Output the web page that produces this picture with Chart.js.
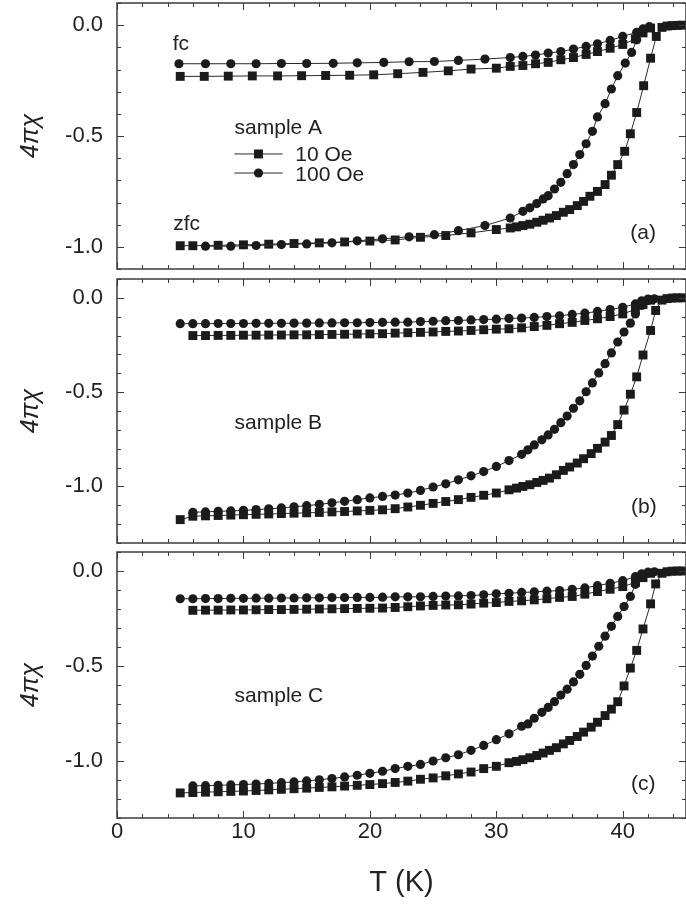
<!DOCTYPE html>
<html><head><meta charset="utf-8">
<script src="https://cdn.jsdelivr.net/npm/chart.js@4.4.1/dist/chart.umd.min.js"></script>
<style>
html,body{margin:0;padding:0;background:#fff;}
#wrap{position:relative;width:686px;height:911px;overflow:hidden;background:#fff;}
.panel{position:absolute;left:0;width:686px;}
canvas{display:block;}
</style></head><body>
<div id="wrap">
  <div class="panel" style="top:0px;height:273px"><canvas id="ca" width="686" height="273"></canvas></div>
  <div class="panel" style="top:276px;height:270px"><canvas id="cb" width="686" height="270"></canvas></div>
  <div class="panel" style="top:549px;height:362px"><canvas id="cc" width="686" height="362"></canvas></div>
</div>
<script>
// ---------- axis ticks ----------
const xTicks = [0, 10, 20, 30, 40];
const yTicks = [-1.0, -0.5, 0.0];

// ---------- sample A ----------
const aFc10T  = [5, 6.9, 8.8, 10.7, 12.7, 14.6, 16.5, 18.4, 20.3, 22.2, 24.2, 26.2, 28.0, 30.0, 31.1, 32.1, 33.1, 34.1, 35.1, 36.1, 37.1, 38.0, 39.0, 40.0, 41.0, 41.6, 42.2];
const aFc10   = [-0.231,-0.231,-0.230,-0.229,-0.229,-0.228,-0.227,-0.226,-0.224,-0.219,-0.213,-0.206,-0.198,-0.194,-0.186,-0.182,-0.174,-0.168,-0.156,-0.146,-0.132,-0.119,-0.104,-0.087,-0.062,-0.035,-0.013];
const aFc100T = [4.9, 7.0, 9.0, 11.0, 13.0, 15.0, 17.1, 19.0, 21.1, 23.1, 25.1, 27.0, 29.1, 31.1, 32.1, 33.1, 34.1, 35.1, 36.1, 37.1, 38.0, 39.0, 40.0, 41.1, 41.6, 42.1];
const aFc100  = [-0.174,-0.174,-0.174,-0.174,-0.173,-0.173,-0.172,-0.170,-0.168,-0.165,-0.164,-0.159,-0.153,-0.146,-0.141,-0.135,-0.126,-0.119,-0.108,-0.096,-0.084,-0.069,-0.051,-0.032,-0.017,-0.007];
const aZfc10T = [5, 6, 8, 10, 12, 14, 16, 18, 20, 22, 24, 26, 28, 30, 31.1, 31.6, 32.1, 32.65, 33.2, 33.7, 34.2, 34.75, 35.3, 35.8, 36.4, 36.9, 37.4, 38.0, 38.6, 39.1, 39.6, 40.15, 40.6, 41.1, 41.65, 42.2, 42.65, 43.1, 43.5, 43.9, 44.3, 44.7];
const aZfc10  = [-0.995,-0.995,-0.993,-0.991,-0.988,-0.985,-0.982,-0.978,-0.974,-0.969,-0.957,-0.949,-0.937,-0.922,-0.915,-0.910,-0.904,-0.898,-0.889,-0.880,-0.870,-0.859,-0.844,-0.832,-0.814,-0.795,-0.772,-0.750,-0.719,-0.677,-0.629,-0.569,-0.490,-0.394,-0.273,-0.149,-0.051,-0.010,-0.004,-0.002,-0.001,0.0];
const aZfc100T = [7, 9, 11, 13, 15, 17, 19, 21, 23.1, 25.1, 27, 29.1, 31.1, 32.1, 32.65, 33.2, 33.7, 34.1, 34.6, 35.1, 35.6, 36.1, 36.6, 37.1, 37.6, 38.0, 38.6, 39.1, 39.6, 40.2, 40.7, 41.1, 41.6, 42.1];
const aZfc100  = [-0.997,-0.997,-0.994,-0.990,-0.987,-0.982,-0.973,-0.964,-0.955,-0.945,-0.927,-0.904,-0.870,-0.840,-0.824,-0.805,-0.784,-0.769,-0.739,-0.709,-0.670,-0.629,-0.584,-0.535,-0.479,-0.414,-0.354,-0.288,-0.228,-0.171,-0.123,-0.066,-0.028,-0.009];

// ---------- sample B ----------
const bFc100T = [5,6,7,8,9,10,11,12,13,14,15,16,17,18,19,20,21,22,23,24,25,26,27,28,29,30,31,32,33,34,35,36,37,38,39,40,41,41.5,42];
const bFc100  = [-0.137,-0.137,-0.137,-0.136,-0.136,-0.136,-0.135,-0.135,-0.135,-0.134,-0.134,-0.133,-0.133,-0.132,-0.132,-0.131,
                 -0.130,-0.129,-0.129,-0.126,-0.124,-0.121,-0.120,-0.117,-0.115,-0.113,-0.109,-0.107,-0.104,-0.099,-0.095,-0.088,-0.081,-0.072,-0.062,-0.050,-0.032,-0.016,-0.006];
const bFc10T  = [6,7,8,9,10,11,12,13,14,15,16,17,18,19,20,21,22,23,24,25,26,27,28,29,30,31,32,33,34,35,36,37,38,39,40,41,41.6,42.2];
const bFc10   = [-0.200,-0.200,-0.199,-0.199,-0.198,-0.198,-0.197,-0.197,-0.196,-0.196,-0.195,-0.194,-0.193,-0.192,-0.191,
                 -0.190,-0.187,-0.185,-0.183,-0.181,-0.178,-0.176,-0.173,-0.169,-0.166,-0.164,-0.159,-0.152,-0.146,-0.137,-0.130,-0.120,-0.111,-0.099,-0.085,-0.062,-0.035,-0.012];
const bZfc10T = [5,6,7,8,9,10,11,12,13,14,15,16,17,18,19,20,21,22,23,24,25,26,27,28,29,30,31,31.6,32.1,32.65,33.2,33.7,34.2,34.75,35.3,35.8,36.4,36.9,37.5,38.0,38.6,39.1,39.6,40.1,40.6,41.1,41.6,42.2,42.6,43.1,43.5,43.9,44.3,44.7];
const bZfc10  = [-1.176,-1.158,-1.156,-1.154,-1.152,-1.150,-1.148,-1.146,-1.144,-1.142,-1.140,-1.138,-1.135,-1.133,-1.130,-1.127,-1.124,
                 -1.118,-1.109,-1.100,-1.090,-1.080,-1.070,-1.058,-1.047,-1.035,-1.018,
                 -1.009,-1.000,-0.991,-0.979,-0.968,-0.956,-0.938,-0.915,-0.897,-0.876,-0.853,-0.826,-0.798,-0.765,-0.730,-0.672,-0.595,-0.511,-0.419,-0.303,-0.173,-0.067,
                 -0.012,-0.004,-0.001,0.0,0.0];
const bZfc100T = [6,7,8,9,10,11,12,13,14,15,16,17,18,19,20,21,22,23,24,25,26,27,28,29,30,31,32,32.5,33.0,33.6,34.1,34.6,35.1,35.6,36.1,36.6,37.1,37.6,38.1,38.6,39.1,39.6,40.1,40.6,41.0,41.5,42.0,42.5];
const bZfc100  = [-1.137,-1.135,-1.132,-1.130,-1.127,-1.123,-1.119,-1.114,-1.108,-1.102,-1.095,-1.087,-1.079,-1.070,-1.061,-1.053,-1.046,-1.035,-1.021,-1.003,-0.986,-0.965,-0.944,-0.921,-0.894,-0.863,
                  -0.830,-0.806,-0.780,-0.753,-0.727,-0.697,-0.662,-0.627,-0.586,-0.546,-0.498,-0.451,-0.398,-0.349,-0.292,-0.234,-0.181,-0.134,-0.085,-0.040,-0.014,-0.005];

// ---------- sample C ----------
const cFc100T = [5,6,7,8,9,10,11,12,13,14,15,16,17,18,19,20,21,22,23,24,25,26,27,28,29,30,31,32,33,34,35,36,37,38,39,40,41,41.5,42];
const cFc100  = [-0.146,-0.146,-0.145,-0.145,-0.144,-0.144,-0.143,-0.143,-0.142,-0.142,-0.141,-0.141,-0.140,-0.140,-0.139,-0.139,
                 -0.138,-0.136,-0.136,-0.136,-0.134,-0.132,-0.131,-0.129,-0.125,-0.120,-0.117,-0.113,-0.110,-0.106,-0.103,-0.096,-0.089,-0.077,-0.065,-0.051,-0.030,-0.015,-0.006];
const cFc10T  = [6,7,8,9,10,11,12,13,14,15,16,17,18,19,20,21,22,23,24,25,26,27,28,29,30,31,32,33,34,35,36,37,38,39,40,41,41.6,42.2];
const cFc10   = [-0.207,-0.206,-0.206,-0.205,-0.205,-0.204,-0.203,-0.203,-0.202,-0.201,-0.200,-0.199,-0.198,-0.197,-0.196,
                 -0.195,-0.192,-0.188,-0.184,-0.181,-0.179,-0.178,-0.174,-0.169,-0.166,-0.160,-0.157,-0.152,-0.146,-0.139,-0.134,-0.122,-0.108,-0.096,-0.082,-0.060,-0.035,-0.012];
const cZfc10T = [5,6,7,8,9,10,11,12,13,14,15,16,17,18,19,20,21,22,23,24,25,26,27,28,29,30,31,31.6,32.1,32.65,33.2,33.7,34.2,34.75,35.3,35.8,36.4,36.9,37.5,38.0,38.6,39.1,39.6,40.1,40.6,41.1,41.6,42.2,42.6,43.1,43.5,43.9,44.3,44.7];
const cZfc10  = [-1.168,-1.166,-1.164,-1.162,-1.160,-1.158,-1.155,-1.152,-1.149,-1.146,-1.143,-1.139,-1.136,-1.132,-1.128,-1.124,-1.119,
                 -1.113,-1.106,-1.096,-1.089,-1.078,-1.068,-1.058,-1.040,-1.028,-1.009,
                 -1.002,-0.993,-0.983,-0.971,-0.958,-0.944,-0.930,-0.910,-0.892,-0.871,-0.848,-0.822,-0.796,-0.761,-0.727,-0.688,-0.605,-0.511,-0.418,-0.305,-0.173,-0.068,
                 -0.012,-0.004,-0.001,0.0,0.0];
const cZfc100T = [6,7,8,9,10,11,12,13,14,15,16,17,18,19,20,21,22,23,24,25,26,27,28,29,30,31,32,32.5,33.0,33.6,34.1,34.6,35.1,35.6,36.1,36.6,37.1,37.6,38.1,38.6,39.1,39.6,40.1,40.6,41.0,41.5,42.0,42.5];
const cZfc100  = [-1.131,-1.130,-1.128,-1.126,-1.124,-1.121,-1.118,-1.114,-1.110,-1.105,-1.099,-1.092,-1.084,-1.075,-1.065,
                  -1.054,-1.040,-1.028,-1.018,-1.000,-0.983,-0.967,-0.944,-0.918,-0.888,-0.857,
                  -0.817,-0.805,-0.775,-0.744,-0.718,-0.688,-0.653,-0.622,-0.584,-0.544,-0.497,-0.448,-0.396,-0.343,-0.291,-0.239,-0.187,-0.134,-0.070,-0.030,-0.010,-0.004];

// ---------- rendering ----------
const FONT = "'Liberation Sans', Arial, Helvetica, sans-serif";
const INK = '#1b1b1b';
const FRAME = '#3c3c3c';
const SQ_R = 6.3, CI_R = 4.6;

function pts(T, V) { return T.map((t, i) => ({ x: t, y: V[i] })); }
function ds(T, V, style) {
  const r = style === 'rect' ? SQ_R : CI_R;
  return {
    data: pts(T, V), showLine: true, tension: 0, fill: false,
    borderColor: '#2a2a2a', borderWidth: 1,
    pointStyle: style, pointRadius: r, pointHoverRadius: r,
    pointBackgroundColor: INK, pointBorderColor: INK, pointBorderWidth: 0
  };
}

const frameTicks = {
  id: 'frameTicks',
  afterDatasetsDraw(chart) {
    const { ctx, chartArea: { left, right, top, bottom }, scales: { x, y } } = chart;
    ctx.save();
    ctx.strokeStyle = FRAME;
    ctx.lineWidth = 1;
    ctx.beginPath();
    for (let k = 0; k <= 22; k++) {
      const v = 2 * k;
      const px = Math.round(x.getPixelForValue(v)) + 0.5;
      const len = (v % 10 === 0) ? 7 : 4;
      ctx.moveTo(px, bottom); ctx.lineTo(px, bottom - len);
      ctx.moveTo(px, top); ctx.lineTo(px, top + len);
    }
    const lo = Math.round(y.min * 10), hi = Math.round(y.max * 10);
    for (let k = lo; k <= hi; k++) {
      const py = Math.round(y.getPixelForValue(k / 10)) + 0.5;
      const len = (k % 5 === 0) ? 7 : 4;
      ctx.moveTo(left, py); ctx.lineTo(left + len, py);
      ctx.moveTo(right, py); ctx.lineTo(right - len, py);
    }
    ctx.stroke();
    ctx.lineWidth = 1.5;
    ctx.strokeRect(left, top, right - left, bottom - top);
    ctx.restore();
  }
};

const notes = {
  id: 'notes',
  afterDraw(chart, args, opts) {
    const { ctx, scales: { x, y } } = chart;
    ctx.save();
    ctx.fillStyle = '#222';
    ctx.font = '21px ' + FONT;
    ctx.textAlign = 'left';
    ctx.textBaseline = 'alphabetic';
    (opts.items || []).forEach(it => {
      ctx.fillText(it.text, x.getPixelForValue(it.x), y.getPixelForValue(it.y));
    });
    (opts.keys || []).forEach(k => {
      const x1 = x.getPixelForValue(k.x1), x2 = x.getPixelForValue(k.x2), py = y.getPixelForValue(k.y);
      ctx.strokeStyle = '#2a2a2a'; ctx.lineWidth = 1;
      ctx.beginPath(); ctx.moveTo(x1, py); ctx.lineTo(x2, py); ctx.stroke();
      ctx.fillStyle = INK;
      Chart.helpers.drawPoint(ctx, { pointStyle: k.style, radius: k.style === 'rect' ? SQ_R : CI_R, borderWidth: 0, rotation: 0 }, (x1 + x2) / 2, py);
      ctx.fillStyle = '#222';
    });
    ctx.restore();
  }
};

function makePanel(id, datasets, yMin, yMax, bottomAxis, padTop, xHeight, noteItems, keys) {
  return new Chart(document.getElementById(id), {
    type: 'scatter',
    data: { datasets },
    options: {
      responsive: false, animation: false, devicePixelRatio: 1,
      layout: { autoPadding: false, padding: { top: padTop, right: 0, bottom: 0, left: 0 } },
      plugins: { legend: { display: false }, tooltip: { enabled: false },
                 notes: { items: noteItems, keys: keys || [] } },
      scales: {
        x: {
          type: 'linear', min: 0, max: 45,
          afterBuildTicks: s => { s.ticks = xTicks.map(v => ({ value: v })); },
          afterFit: s => { s.height = xHeight; s.paddingLeft = 0; s.paddingRight = 0; s.paddingTop = 0; s.paddingBottom = 0; },
          grid: { display: false, drawTicks: false }, border: { display: false },
          ticks: { display: bottomAxis, autoSkip: false, maxRotation: 0, padding: 1, color: '#222',
                   font: { family: FONT, size: 22 } },
          title: { display: bottomAxis, text: 'T (K)', color: '#222',
                   font: { family: FONT, size: 29 }, padding: { top: 0, bottom: 11 } }
        },
        y: {
          type: 'linear', min: yMin, max: yMax,
          afterBuildTicks: s => { s.ticks = yTicks.map(v => ({ value: v })); },
          afterFit: s => { s.width = 117; s.paddingTop = 0; s.paddingBottom = 0; s.paddingLeft = 0; s.paddingRight = 0; },
          grid: { display: false, drawTicks: false }, border: { display: false },
          ticks: { padding: 14, color: '#222', font: { family: FONT, size: 22 },
                   callback: v => Number(v).toFixed(1) },
          title: { display: true, text: '4πχ', color: '#222',
                   font: { family: FONT, size: 25, style: 'italic' }, padding: { top: 16, bottom: 0 } }
        }
      }
    },
    plugins: [frameTicks, notes]
  });
}

makePanel('ca', [
  ds(aFc100T, aFc100, 'circle'), ds(aZfc100T, aZfc100, 'circle'),
  ds(aFc10T, aFc10, 'rect'), ds(aZfc10T, aZfc10, 'rect')
], -1.1, 0.1, false, 3, 4, [
  { text: 'fc', x: 4.4, y: -0.111 },
  { text: 'sample A', x: 9.3, y: -0.49 },
  { text: '10 Oe', x: 14.1, y: -0.614 },
  { text: '100 Oe', x: 14.1, y: -0.701 },
  { text: 'zfc', x: 4.45, y: -0.922 },
  { text: '(a)', x: 40.6, y: -0.963 }
], [
  { x1: 9.28, x2: 13.1, y: -0.581, style: 'rect' },
  { x1: 9.28, x2: 13.1, y: -0.667, style: 'circle' }
]);

makePanel('cb', [
  ds(bFc100T, bFc100, 'circle'), ds(bZfc100T, bZfc100, 'circle'),
  ds(bFc10T, bFc10, 'rect'), ds(bZfc10T, bZfc10, 'rect')
], -1.3, 0.1, false, 3, 3, [
  { text: 'sample B', x: 9.3, y: -0.695 },
  { text: '(b)', x: 40.65, y: -1.139 }
]);

makePanel('cc', [
  ds(cFc100T, cFc100, 'circle'), ds(cZfc100T, cZfc100, 'circle'),
  ds(cFc10T, cFc10, 'rect'), ds(cZfc10T, cZfc10, 'rect')
], -1.3, 0.1, true, 3, 93, [
  { text: 'sample C', x: 9.3, y: -0.690 },
  { text: '(c)', x: 40.65, y: -1.150 }
]);
</script>
</body></html>
